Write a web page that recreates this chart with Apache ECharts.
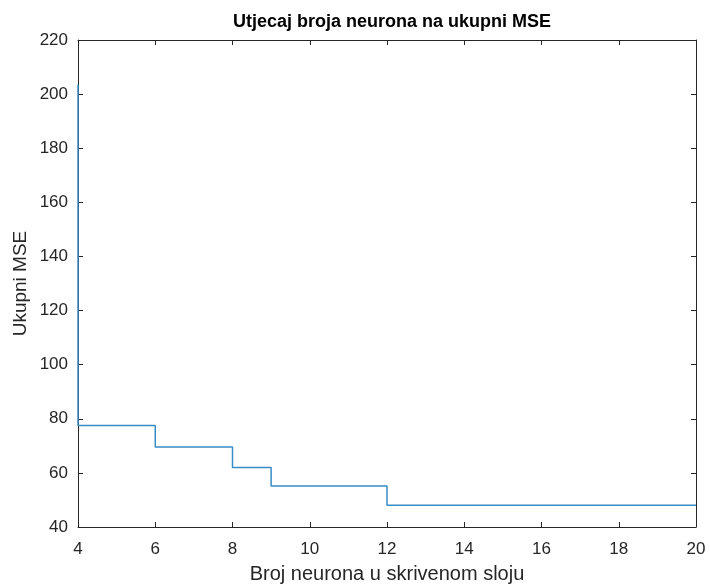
<!DOCTYPE html>
<html>
<head>
<meta charset="utf-8">
<script src="https://cdn.jsdelivr.net/npm/echarts@6/dist/echarts.min.js"></script>
<style>
html,body{margin:0;padding:0;background:#fff;}
#chart{width:710px;height:584px;}
</style>
</head>
<body>
<div id="chart"></div>
<script>
// Data (stairs plot)
const neurons = [4, 5, 6, 7, 8, 9, 10, 11, 12, 13, 14, 15, 16, 17, 18, 19, 20];
const mse = [203.5, 77.5, 77.5, 69.6, 69.6, 62.0, 55.2, 55.2, 55.2, 48.0, 48.0, 48.0, 48.0, 48.0, 48.0, 48.0, 48.0];
const xTicks = [4, 6, 8, 10, 12, 14, 16, 18, 20];
const yTicks = [40, 60, 80, 100, 120, 140, 160, 180, 200, 220];
const titleText = 'Utjecaj broja neurona na ukupni MSE';
const xName = 'Broj neurona u skrivenom sloju';
const yName = 'Ukupni MSE';

const FONT = '"Liberation Sans", Arial, Helvetica, sans-serif';
const AX = '#262626';

const chart = echarts.init(document.getElementById('chart'), null, {renderer: 'canvas'});

const baseAxisLine = {show: true, lineStyle: {color: AX, width: 1}};
const baseTick = {show: true, inside: true, length: 5, lineStyle: {color: AX, width: 1}};

chart.setOption({
  backgroundColor: '#ffffff',
  animation: false,
  title: {
    text: titleText,
    left: 387,
    top: 8,
    textAlign: 'center',
    textStyle: {fontFamily: FONT, fontWeight: 'bold', fontSize: 18, color: '#000'}
  },
  grid: {left: 78, right: 14, top: 40, bottom: 57, containLabel: false, outerBoundsMode: 'none'},
  xAxis: [
    {
      type: 'value',
      min: xTicks[0], max: xTicks[xTicks.length - 1], interval: 2,
      position: 'bottom',
      name: xName,
      nameLocation: 'middle',
      nameGap: 37,
      nameMoveOverlap: false,
      nameTextStyle: {fontFamily: FONT, fontSize: 20, color: AX},
      axisLine: baseAxisLine,
      axisTick: baseTick,
      splitLine: {show: false},
      axisLabel: {fontFamily: FONT, fontSize: 17, color: AX, margin: 14}
    },
    {
      type: 'value',
      min: xTicks[0], max: xTicks[xTicks.length - 1], interval: 2,
      position: 'top',
      axisLine: baseAxisLine,
      axisTick: baseTick,
      splitLine: {show: false},
      axisLabel: {show: false}
    }
  ],
  yAxis: [
    {
      type: 'value',
      min: yTicks[0], max: yTicks[yTicks.length - 1], interval: 20,
      position: 'left',
      name: yName,
      nameLocation: 'middle',
      nameGap: 48,
      nameMoveOverlap: false,
      nameRotate: 90,
      nameTextStyle: {fontFamily: FONT, fontSize: 19, color: AX},
      axisLine: baseAxisLine,
      axisTick: baseTick,
      splitLine: {show: false},
      axisLabel: {fontFamily: FONT, fontSize: 17, color: AX, margin: 10}
    },
    {
      type: 'value',
      min: yTicks[0], max: yTicks[yTicks.length - 1], interval: 20,
      position: 'right',
      axisLine: baseAxisLine,
      axisTick: baseTick,
      splitLine: {show: false},
      axisLabel: {show: false}
    }
  ],
  series: [
    {
      type: 'line',
      xAxisIndex: 0,
      yAxisIndex: 0,
      step: 'start',
      showSymbol: false,
      symbol: 'none',
      clip: true,
      lineStyle: {color: '#3a8cc6', width: 1.5},
      data: neurons.map((n, i) => [n, mse[i]])
    }
  ]
});
</script>
</body>
</html>
